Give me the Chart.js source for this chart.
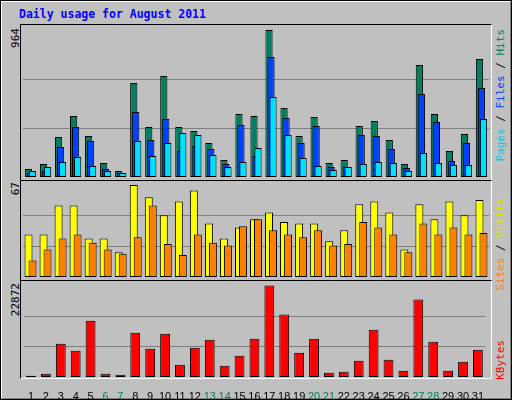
<!DOCTYPE html>
<html><head><meta charset="utf-8">
<script src="https://cdn.jsdelivr.net/npm/chart.js@4/dist/chart.umd.min.js"></script>
<style>
html,body{margin:0;padding:0;background:#c0c0c0;}
#wrap{position:absolute;left:0;top:0;width:508px;height:396px;background:#c0c0c0;border-top:2px solid #fff;border-left:2px solid #fff;border-right:2px solid #808080;border-bottom:2px solid #808080;outline:1px solid #000;outline-offset:-1px;}
.abs{position:absolute;}
.frame{position:absolute;border-top:1px solid #000;border-left:1px solid #000;border-right:1px solid #fff;border-bottom:1px solid #fff;box-sizing:border-box;}
.rot{position:absolute;white-space:nowrap;transform-origin:0 0;transform:rotate(-90deg) translateX(-100%);font:11px "DejaVu Sans Mono",monospace;line-height:11px;}
canvas{position:absolute;}
</style></head><body>
<div id="wrap"></div>
<div class="abs" style="left:19px;top:7px;font:bold 11.5px 'DejaVu Sans Mono',monospace;color:#0000ff;">Daily usage for August 2011</div>
<div class="frame" style="left:20px;top:24px;width:472px;height:157px;"></div>
<div class="frame" style="left:20px;top:180px;width:472px;height:101px;"></div>
<div class="frame" style="left:20px;top:280px;width:472px;height:99px;"></div>
<div class="rot" style="left:10px;top:28px;color:#000">964</div>
<div class="rot" style="left:10px;top:182px;color:#000">67</div>
<div class="rot" style="left:10px;top:283px;color:#000">22872</div>
<div class="rot" style="left:495px;top:29px;"><span style="color:#00c8e0">Pages</span><span style="color:#000"> / </span><span style="color:#0040ff">Files</span><span style="color:#000"> / </span><span style="color:#008060">Hits</span></div>
<div class="rot" style="left:495px;top:198px;"><span style="color:#ff8000">Sites</span><span style="color:#000"> / </span><span style="color:#e0e000">Visits</span></div>
<div class="rot" style="left:495px;top:340px;color:#ff0000">KBytes</div>
<canvas id="c1" width="466" height="152" style="left:23px;top:25px;width:466px;height:152px"></canvas>
<canvas id="c2" width="466" height="96" style="left:23px;top:181px;width:466px;height:96px"></canvas>
<canvas id="c3" width="466" height="118" style="left:23px;top:281px;width:466px;height:118px"></canvas>
<script>
const days = ['1','2','3','4','5','6','7','8','9','10','11','12','13','14','15','16','17','18','19','20','21','22','23','24','25','26','27','28','29','30','31'];
const weekendDays = ['6','7','13','14','20','21','27','28'];
const hits   = [52,85,262,400,269,92,39,616,328,662,328,302,223,111,413,400,964,452,269,393,92,111,334,367,243,85,734,413,170,282,774];
const files  = [26,39,197,328,236,52,26,426,243,380,170,203,184,85,341,138,787,387,223,334,66,66,275,269,184,59,544,361,105,223,584];
const pages  = [39,66,98,131,72,39,26,236,138,223,289,275,144,66,98,190,525,275,125,72,46,66,85,98,92,39,157,92,79,79,380];
const visits = [31,31,52,52,28,28,18,67,58,45,55,63,39,28,36,42,47,40,39,39,26,34,53,55,47,20,53,42,55,45,56];
const sites  = [12,20,28,31,25,20,17,29,52,24,16,31,25,23,37,42,34,31,29,34,23,24,40,36,31,18,39,31,36,31,32];
const kbytes = [334,835,8347,6594,14107,835,584,11102,7095,10852,3089,7346,9349,2838,5342,9599,22872,15610,6094,9599,1085,1336,4090,11853,4341,1586,19366,8848,1586,3840,6845];
const maxLabels = [964, 67, 22872];

const drawInOrder = {id:'drawInOrder', beforeDatasetsDraw(chart){
  const metas = chart.getSortedVisibleDatasetMetas();
  const ctx = chart.ctx;
  ctx.save();
  for (const m of metas) m.controller.draw();
  ctx.restore();
  return false;
}};

function mk(id, datasets, top, catPct, barPct, showX){
  const yMaxLabel = top.label, yMax = top.max;
  return new Chart(document.getElementById(id), {
    type:'bar',
    data:{labels:days, datasets:datasets.map(d=>({data:d.data, backgroundColor:d.color, borderColor:'#000', borderWidth:1, borderSkipped:false, categoryPercentage:catPct, barPercentage:barPct}))},
    plugins:[drawInOrder],
    options:{
      responsive:false, animation:false, devicePixelRatio:1,
      layout:{padding:0},
      plugins:{legend:{display:false}, tooltip:{enabled:false}},
      scales:{
        x:{display:showX, offset:true, grid:{display:false}, border:{display:false},
           ticks:{padding:5, autoSkip:false, maxRotation:0, font:{family:'Liberation Sans', size:11},
                  color:c=>weekendDays.includes(days[c.index])?'#008060':'#000'},
           afterFit:s=>{ if(showX) s.height=22; }},
        y:{min:0, max:yMax, border:{display:false},
           grid:{color:'#808080', drawTicks:false, lineWidth:1},
           ticks:{display:false},
           afterBuildTicks:s=>{ s.ticks=[{value:yMaxLabel/3},{value:2*yMaxLabel/3}]; },
           afterFit:s=>{ s.width=0; }}
      }
    }
  });
}
mk('c1', [{data:hits,color:'#008060'},{data:files,color:'#0040ff'},{data:pages,color:'#00e0ff'}],
   {label:maxLabels[0], max:maxLabels[0]*152/147}, 0.4, 3.6, false);
mk('c2', [{data:visits,color:'#ffff00'},{data:sites,color:'#ff8000'}],
   {label:maxLabels[1], max:maxLabels[1]*96/92}, 0.53, 2.0, false);
mk('c3', [{data:kbytes,color:'#ff0000'}],
   {label:maxLabels[2], max:maxLabels[2]*96/91.4}, 1.0, 0.66, true);
</script>
</body></html>
